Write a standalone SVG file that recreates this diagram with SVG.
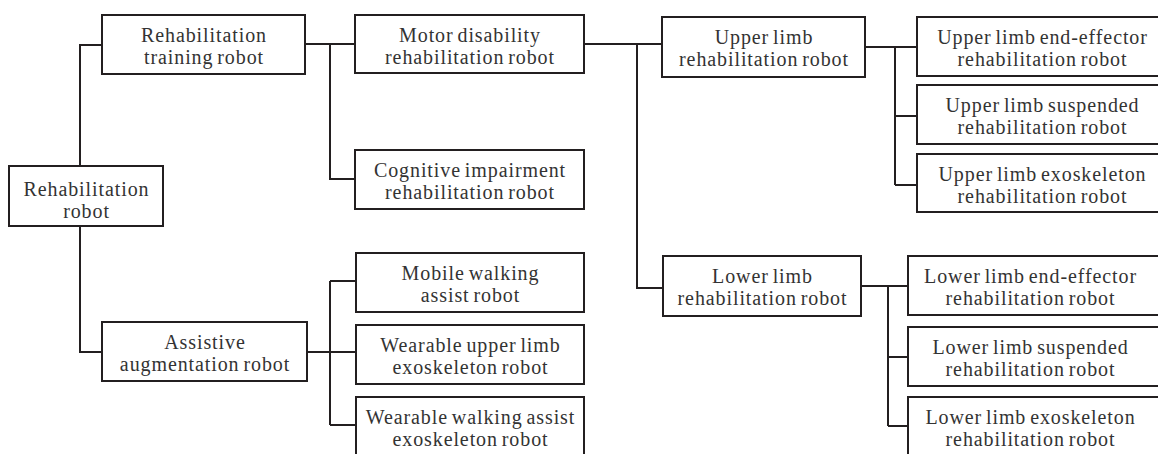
<svg xmlns="http://www.w3.org/2000/svg" width="1158" height="454" viewBox="0 0 1158 454">
<style>
.box{fill:#fff;stroke:#231f20;stroke-width:2}
.ln{fill:none;stroke:#231f20;stroke-width:2}
text{font-family:"Liberation Serif","Times New Roman",serif;font-size:20px;fill:#333;text-anchor:middle;letter-spacing:0.9px;word-spacing:-2px}
</style>
<rect width="1158" height="454" fill="#fff"/>
<g id="connectors">
<path class="ln" d="M80,166V45H102M80,226V352H102"/>
<path class="ln" d="M305,44H355M330,44V179H355"/>
<path class="ln" d="M307,352H356M330,281V425M330,281H356M330,425H356"/>
<path class="ln" d="M584,44H662M637,44V288H663"/>
<path class="ln" d="M865,47H917M895,47V185M895,116H917M895,185H917"/>
<path class="ln" d="M861,286H908M888,286V426M888,357H908M888,426H908"/>
</g>
<g id="root"><rect class="box" x="9" y="166" width="154" height="60"/><text x="86.5" y="195.5">Rehabilitation</text><text x="86.5" y="217.5">robot</text></g>
<g id="training"><rect class="box" x="102" y="15" width="203" height="59"/><text x="204" y="42">Rehabilitation</text><text x="204" y="64">training robot</text></g>
<g id="assistive"><rect class="box" x="102" y="322" width="205" height="59"/><text x="205" y="349">Assistive</text><text x="205" y="371">augmentation robot</text></g>
<g id="motor"><rect class="box" x="355" y="15" width="229" height="58"/><text x="470" y="42">Motor disability</text><text x="470" y="64">rehabilitation robot</text></g>
<g id="cognitive"><rect class="box" x="355" y="150" width="229" height="59"/><text x="470" y="177">Cognitive impairment</text><text x="470" y="199">rehabilitation robot</text></g>
<g id="mobile"><rect class="box" x="356" y="253" width="228" height="59"/><text x="470.5" y="280">Mobile walking</text><text x="470.5" y="302">assist robot</text></g>
<g id="wear-upper"><rect class="box" x="356" y="325" width="228" height="59"/><text x="470.5" y="352">Wearable upper limb</text><text x="470.5" y="374">exoskeleton robot</text></g>
<g id="wear-walk"><rect class="box" x="356" y="397" width="228" height="70"/><text x="470.5" y="424">Wearable walking assist</text><text x="470.5" y="446">exoskeleton robot</text></g>
<g id="upper"><rect class="box" x="662" y="17" width="203" height="60"/><text x="764" y="44">Upper limb</text><text x="764" y="66">rehabilitation robot</text></g>
<g id="lower"><rect class="box" x="663" y="256" width="198" height="60"/><text x="762.5" y="283">Lower limb</text><text x="762.5" y="305">rehabilitation robot</text></g>
<g id="ul-end"><rect class="box" x="917" y="17" width="260" height="59"/><text x="1042.5" y="44">Upper limb end-effector</text><text x="1042.5" y="66">rehabilitation robot</text></g>
<g id="ul-susp"><rect class="box" x="917" y="85" width="260" height="59"/><text x="1042.5" y="112">Upper limb suspended</text><text x="1042.5" y="134">rehabilitation robot</text></g>
<g id="ul-exo"><rect class="box" x="917" y="154" width="260" height="58"/><text x="1042.5" y="181">Upper limb exoskeleton</text><text x="1042.5" y="203">rehabilitation robot</text></g>
<g id="ll-end"><rect class="box" x="908" y="256" width="260" height="59"/><text x="1030.5" y="283">Lower limb end-effector</text><text x="1030.5" y="305">rehabilitation robot</text></g>
<g id="ll-susp"><rect class="box" x="908" y="327" width="260" height="59"/><text x="1030.5" y="354">Lower limb suspended</text><text x="1030.5" y="376">rehabilitation robot</text></g>
<g id="ll-exo"><rect class="box" x="908" y="397" width="260" height="70"/><text x="1030.5" y="424">Lower limb exoskeleton</text><text x="1030.5" y="446">rehabilitation robot</text></g>
</svg>
